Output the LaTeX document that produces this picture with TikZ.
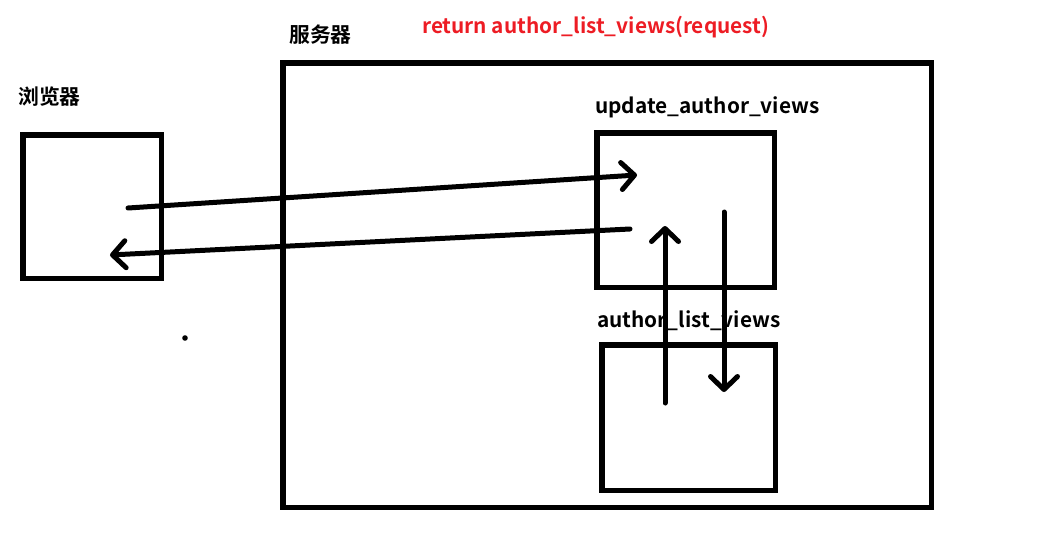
\documentclass[tikz,border=0pt]{standalone}
\usepackage{fontspec}
\newfontfamily\cjk{Noto Sans CJK SC Bold}
\usetikzlibrary{arrows.meta}
\definecolor{pred}{HTML}{ED1C24}
\tikzset{
  box/.style={draw=black,line width=5.5pt,inner sep=0pt},
  lab/.style={font=\cjk\fontsize{20.8}{20.8}\selectfont,inner sep=0pt,anchor=west},
  conn/.style={line width=5pt,line cap=round,-{Straight Barb[length=13pt,width=27pt,line width=5pt,round]}},
}
\begin{document}
\begin{tikzpicture}[x=1pt,y=-1pt]
\useasboundingbox (0,0) rectangle (1046,536);
\node[box,minimum width=138.5pt,minimum height=143.5pt] (browser) at (92,206.5) {};
\node[box,minimum width=648.5pt,minimum height=444.5pt] (server) at (607,285.25) {};
\node[box,minimum width=177.5pt,minimum height=154.5pt] (update) at (685.5,210) {};
\node[box,minimum width=173.5pt,minimum height=145.5pt] (alist) at (688.5,417.5) {};
\node[lab] (tb) at (18,97) {浏览器};
\node[lab] (ts) at (289,35) {服务器};
\node[lab,text=pred] (tr) at (422,27) {return author\_list\_views(request)};
\node[lab] (tu) at (595,107) {update\_author\_views};
\node[lab] (ta) at (597,321) {author\_list\_views};
\coordinate (a1s) at (128,208);
\coordinate (a1e) at (637,175);
\coordinate (a2s) at (630,229);
\coordinate (a2e) at (110,255);
\coordinate (a3s) at (665,403);
\coordinate (a3e) at (665,226);
\coordinate (a4s) at (724,212);
\coordinate (a4e) at (724,392);
\draw[conn] (a1s) -- (a1e);
\draw[conn] (a2s) -- (a2e);
\draw[conn] (a3s) -- (a3e);
\draw[conn] (a4s) -- (a4e);
\fill (185,338) circle (2.8pt);
\end{tikzpicture}
\end{document}
